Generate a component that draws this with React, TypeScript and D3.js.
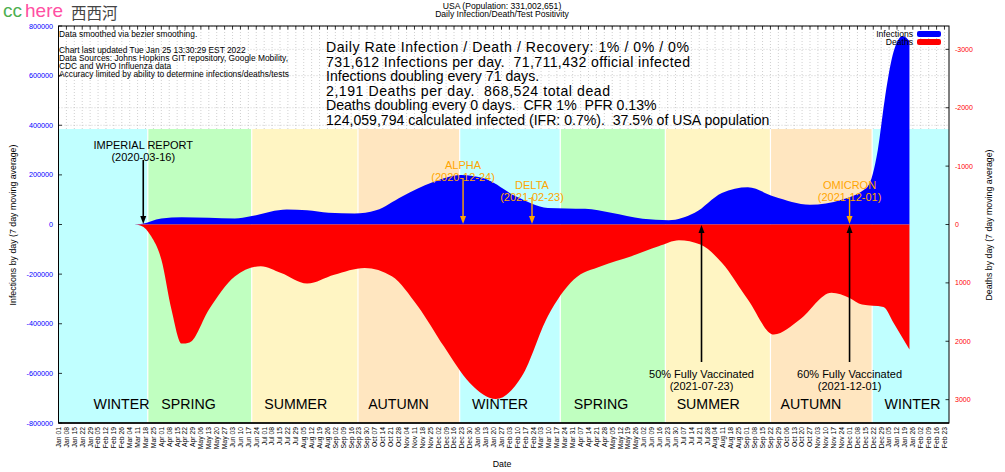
import React from 'react';
import * as d3 from 'd3';

const W = 1005;
const H = 472;
const PL = 58.5, PR = 949, PT = 26, PB = 423, BAND_TOP = 129;

const xDomain = ['2020-01-01', '2022-02-27'];

const infectionDates = ['2020-02-20', '2020-03-08', '2020-03-14', '2020-04-01', '2020-04-19', '2020-05-13', '2020-06-05', '2020-06-19', '2020-07-21', '2020-08-08', '2020-08-27', '2020-09-19', '2020-10-08', '2020-10-31', '2020-11-27', '2020-12-22', '2021-01-12', '2021-02-09', '2021-03-09', '2021-04-11', '2021-05-04', '2021-06-01', '2021-06-24', '2021-07-17', '2021-08-10', '2021-09-02', '2021-09-25', '2021-10-27', '2021-11-24', '2021-12-17', '2021-12-26', '2022-01-01', '2022-01-08', '2022-01-17', '2022-01-23'];
const infectionValues = [0, 500, 2000, 24000, 29000, 27000, 24000, 33000, 60000, 57000, 47000, 44000, 57000, 113000, 170000, 200000, 185000, 113000, 67000, 63000, 47000, 23000, 17000, 47000, 127000, 150000, 113000, 80000, 100000, 153000, 300000, 500000, 680000, 760000, 740000];

const deathDates = ['2020-03-08', '2020-03-14', '2020-03-23', '2020-04-01', '2020-04-10', '2020-04-19', '2020-04-26', '2020-05-13', '2020-06-05', '2020-06-28', '2020-07-16', '2020-08-08', '2020-09-01', '2020-09-28', '2020-10-22', '2020-11-14', '2020-12-07', '2020-12-30', '2021-01-22', '2021-02-14', '2021-03-09', '2021-04-01', '2021-04-25', '2021-05-22', '2021-06-15', '2021-07-03', '2021-07-22', '2021-08-10', '2021-09-02', '2021-09-25', '2021-10-18', '2021-11-15', '2021-12-01', '2021-12-12', '2021-12-31', '2022-01-09', '2022-01-23'];
const deathValues = [0, 20, 200, 600, 1460, 2040, 2020, 1460, 890, 715, 830, 1010, 860, 743, 886, 1400, 2086, 2714, 2990, 2600, 1570, 943, 715, 543, 372, 269, 343, 657, 1286, 1886, 1629, 1171, 1257, 1371, 1411, 1686, 2143];

const seasonStarts = ['2020-01-01', '2020-03-20', '2020-06-20', '2020-09-22', '2020-12-21', '2021-03-20', '2021-06-21', '2021-09-22', '2021-12-21'];
const seasonNames = ['WINTER', 'SPRING', 'SUMMER', 'AUTUMN', 'WINTER', 'SPRING', 'SUMMER', 'AUTUMN', 'WINTER'];
const seasonLabelDates = ['2020-02-01', '2020-04-01', '2020-07-01', '2020-10-01', '2021-01-01', '2021-04-01', '2021-07-01', '2021-10-01', '2022-01-01'];
const seasonColors: Record<string, string> = { WINTER: '#c0ffff', SPRING: '#c0ffc0', SUMMER: '#fff5c3', AUTUMN: '#ffe6c0' };

const yTicks = [800000, 600000, 400000, 200000, 0, -200000, -400000, -600000, -800000];
const y2Ticks = [-3000, -2000, -1000, 0, 1000, 2000, 3000];
const xTickFirst = '2020-01-01';
const xTickLast = '2022-02-24';

const infoLines = [
  'Data smoothed via bezier smoothing.',
  '',
  'Chart last updated Tue Jan 25 13:30:29 EST 2022',
  'Data Sources: Johns Hopkins GIT repository, Google Mobility,',
  'CDC and WHO Influenza data',
  'Accuracy limited by ability to determine infections/deaths/tests',
];
const statLines = [
  'Daily Rate Infection / Death / Recovery: 1% / 0% / 0%',
  '731,612 Infections per day.  71,711,432 official infected',
  'Infections doubling every 71 days.',
  '2,191 Deaths per day.  868,524 total dead',
  'Deaths doubling every 0 days.  CFR 1%  PFR 0.13%',
  '124,059,794 calculated infected (IFR: 0.7%).  37.5% of USA population',
];
const statLineWidths = [363, 364, 0, 284, 0, 0];

const annotations = [
  { name: 'IMPERIAL REPORT', date: '2020-03-16', color: '#000000', dir: 'down', textY: 149, arrowFrom: 160 },
  { name: 'ALPHA', date: '2020-12-24', color: '#ffa500', dir: 'down', textY: 169, arrowFrom: 178 },
  { name: 'DELTA', date: '2021-02-23', color: '#ffa500', dir: 'down', textY: 189, arrowFrom: 197 },
  { name: 'OMICRON', date: '2021-12-01', color: '#ffa500', dir: 'down', textY: 189, arrowFrom: 197 },
  { name: '50% Fully Vaccinated', date: '2021-07-23', color: '#000000', dir: 'up', textY: 378, arrowFrom: 362 },
  { name: '60% Fully Vaccinated', date: '2021-12-01', color: '#000000', dir: 'up', textY: 378, arrowFrom: 362 },
];

const FONT = '"Liberation Sans", Arial, Helvetica, sans-serif';

export default function App() {
  const parse = d3.utcParse('%Y-%m-%d');
  const fmt = d3.utcFormat('%b %d');
  const x = d3.scaleUtc().domain(xDomain.map((d) => parse(d) as Date)).range([PL, PR]);
  const y = d3.scaleLinear().domain([-800000, 800000]).range([PB, PT]);
  const y2 = d3.scaleLinear().domain([-3400, 3400]).range([PT, PB]);

  const inf = infectionDates.map((d, i) => ({ date: parse(d) as Date, v: infectionValues[i] }));
  const dth = deathDates.map((d, i) => ({ date: parse(d) as Date, v: deathValues[i] }));

  const infArea = d3.area<{ date: Date; v: number }>()
    .x((d) => x(d.date))
    .y0(y(0))
    .y1((d) => y(d.v))
    .curve(d3.curveMonotoneX);
  const dthArea = d3.area<{ date: Date; v: number }>()
    .x((d) => x(d.date))
    .y0(y2(0))
    .y1((d) => y2(d.v))
    .curve(d3.curveMonotoneX);

  const xTicks = d3.utcDay.range(parse(xTickFirst) as Date, parse(xTickLast) as Date, 7);
  const end = parse(xDomain[1]) as Date;

  const seasons = seasonStarts.map((s, i) => ({
    name: seasonNames[i],
    x0: x(parse(s) as Date),
    x1: i < seasonStarts.length - 1 ? x(parse(seasonStarts[i + 1]) as Date) : x(end),
    lx: x(parse(seasonLabelDates[i]) as Date),
  }));

  const arrowHead = (ax: number, ay: number, dir: string, color: string) => {
    const s = dir === 'down' ? -1 : 1;
    return <path d={`M${ax},${ay} L${ax - 3},${ay + s * 8} L${ax + 3},${ay + s * 8} Z`} fill={color} />;
  };

  return (
    <svg width={W} height={H} style={{ position: 'absolute', left: 0, top: 0, background: '#fff' }} fontFamily={FONT}>
      <rect x={0} y={0} width={W} height={H} fill="#fff" />
      {/* logo */}
      <text x={3} y={16.5} fontSize={19} fill="#4caf50" fontFamily={FONT}>cc</text>
      <text x={25} y={16.5} fontSize={19} fill="#ff4fa3" fontFamily={FONT}>here</text>
      <text x={71} y={18.5} fontSize={15.5} fill="#444" fontFamily={'"Noto Sans CJK SC", sans-serif'}>西西河</text>
      {/* title */}
      <text x={502} y={8.5} fontSize={8.6} textAnchor="middle">USA (Population: 331,002,651)</text>
      <text x={502} y={16.5} fontSize={8.6} textAnchor="middle">Daily Infection/Death/Test Positivity</text>

      {/* grid */}
      <g stroke="#b0b0b0" strokeWidth={0.6} strokeDasharray="1,2">
        {xTicks.map((t, i) => <line key={'gx' + i} x1={x(t)} x2={x(t)} y1={PT} y2={PB} />)}
        {yTicks.map((t, i) => <line key={'gy' + i} x1={PL} x2={PR} y1={y(t)} y2={y(t)} />)}
        {y2Ticks.map((t, i) => <line key={'gy2' + i} x1={PL} x2={PR} y1={y2(t)} y2={y2(t)} />)}
      </g>

      {/* season bands */}
      {seasons.map((s, i) => (
        <rect key={'b' + i} x={s.x0} y={BAND_TOP} width={s.x1 - s.x0} height={PB - BAND_TOP} fill={seasonColors[s.name]} />
      ))}
      {seasons.slice(1).map((s, i) => (
        <line key={'bl' + i} x1={s.x0} x2={s.x0} y1={BAND_TOP} y2={PB} stroke="#fff" strokeWidth={1.2} />
      ))}
      {seasons.map((s, i) => (
        <text key={'sl' + i} x={s.lx} y={409} fontSize={14.2} fill="#000">{s.name}</text>
      ))}

      {/* data */}
      <path d={infArea(inf) || ''} fill="#0000ff" />
      <path d={dthArea(dth) || ''} fill="#ff0000" />

      {/* info text */}
      {infoLines.map((l, i) => (
        <text key={'il' + i} x={59} y={37 + i * 8} fontSize={8.4} fill="#000">{l}</text>
      ))}
      {statLines.map((l, i) => (
        <text key={'st' + i} x={326} y={52 + i * 14.5} fontSize={14.1} fill="#000" style={{ whiteSpace: 'pre' }}
          {...(statLineWidths[i] ? { textLength: statLineWidths[i], lengthAdjust: 'spacing' } : {})}>{l}</text>
      ))}

      {/* annotations */}
      {annotations.map((a, i) => {
        const ax = x(parse(a.date) as Date);
        const tipY = a.dir === 'down' ? y(0) - 0.5 : y(0) + 0.5;
        return (
          <g key={'an' + i}>
            <line x1={ax} x2={ax} y1={a.arrowFrom} y2={a.dir === 'down' ? tipY - 6 : tipY + 6} stroke={a.color} strokeWidth={a.color === '#000000' ? 1.6 : 1.4} />
            {arrowHead(ax, tipY, a.dir, a.color)}
            <text x={ax} y={a.textY} fontSize={11} textAnchor="middle" fill={a.color}>{a.name}</text>
            <text x={ax} y={a.textY + 11.7} fontSize={11} textAnchor="middle" fill={a.color}>({a.date})</text>
          </g>
        );
      })}

      {/* legend */}
      <text x={913} y={37} fontSize={8.6} textAnchor="end">Infections</text>
      <rect x={917} y={31} width={24} height={6} rx={2} fill="#0000ff" />
      <text x={913} y={45} fontSize={8.6} textAnchor="end">Deaths</text>
      <rect x={917} y={39} width={24} height={6} rx={2} fill="#ff0000" />

      {/* frame */}
      <rect x={PL} y={PT} width={PR - PL} height={PB - PT} fill="none" stroke="#000" strokeWidth={1} />
      <line x1={PL} x2={PR} y1={PB} y2={PB} stroke="#000" strokeWidth={1.5} />
      {xTicks.map((t, i) => <line key={'tt' + i} x1={x(t)} x2={x(t)} y1={PT} y2={PT + 3.5} stroke="#000" strokeWidth={0.8} />)}
      {yTicks.map((t, i) => <line key={'ly' + i} x1={PL} x2={PL + 3.5} y1={y(t)} y2={y(t)} stroke="#000" strokeWidth={0.8} />)}
      {y2Ticks.map((t, i) => <line key={'ry' + i} x1={PR - 3.5} x2={PR} y1={y2(t)} y2={y2(t)} stroke="#000" strokeWidth={0.8} />)}

      {/* axis labels */}
      {yTicks.map((t, i) => (
        <text key={'yl' + i} x={53} y={y(t)} dy="0.35em" fontSize={7.2} textAnchor="end" fill="#0000ff">{String(t)}</text>
      ))}
      {y2Ticks.map((t, i) => (
        <text key={'y2l' + i} x={955} y={y2(t)} dy="0.35em" fontSize={7} fill="#ff0000">{String(t)}</text>
      ))}
      {xTicks.map((t, i) => (
        <text key={'xl' + i} transform={`translate(${x(t)},427) rotate(-90)`} dy="0.35em" fontSize={6.8} textAnchor="end" fill="#000">{fmt(t)}</text>
      ))}
      <text transform={`translate(13,225) rotate(-90)`} dy="0.35em" fontSize={8.8} textAnchor="middle">Infections by day (7 day moving average)</text>
      <text transform={`translate(989,225) rotate(-90)`} dy="0.35em" fontSize={8.8} textAnchor="middle">Deaths by day (7 day moving average)</text>
      <text x={502} y={467} fontSize={8.8} textAnchor="middle">Date</text>
    </svg>
  );
}
